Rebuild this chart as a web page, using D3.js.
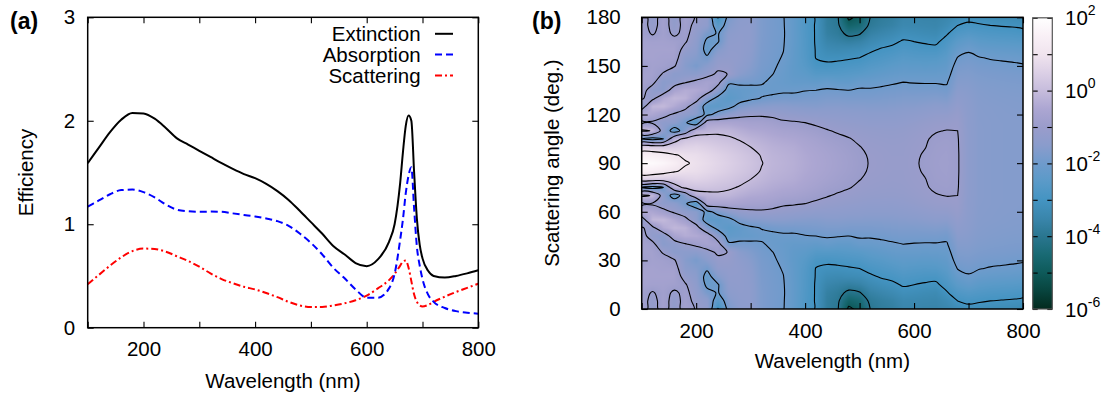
<!DOCTYPE html>
<html><head><meta charset="utf-8">
<script src="https://cdn.jsdelivr.net/npm/d3@7"></script>
<style>
body{margin:0;background:#fff}
svg text{font-family:"Liberation Sans",Arial,Helvetica,sans-serif}
</style>
</head><body>
<script>
// ---------------- Panel (a) data ----------------
const wavelengthsA = [100,120,140,160,180,200,220,240,260,280,300,320,340,360,380,400,420,440,460,480,500,520,540,560,580,600,620,640,650,660,665,670,675,680,685,690,695,700,710,720,740,760,780,800];
const extinction = [1.59,1.74,1.89,2.01,2.075,2.07,2.02,1.93,1.83,1.77,1.71,1.65,1.59,1.535,1.485,1.445,1.39,1.32,1.235,1.13,1.02,0.91,0.79,0.71,0.625,0.595,0.66,0.83,1.0,1.4,1.7,1.95,2.05,2.0,1.5,1.05,0.8,0.67,0.55,0.5,0.485,0.5,0.525,0.555];
const absorption = [1.17,1.23,1.29,1.33,1.335,1.31,1.26,1.19,1.14,1.125,1.12,1.122,1.12,1.105,1.09,1.075,1.055,1.03,0.985,0.91,0.82,0.71,0.58,0.48,0.37,0.29,0.29,0.38,0.52,0.85,1.05,1.3,1.47,1.55,1.15,0.78,0.6,0.47,0.32,0.25,0.19,0.16,0.145,0.135];
const scattering = [0.42,0.51,0.6,0.68,0.74,0.765,0.76,0.735,0.69,0.645,0.59,0.525,0.47,0.43,0.395,0.37,0.335,0.295,0.25,0.215,0.2,0.2,0.215,0.235,0.265,0.31,0.38,0.46,0.52,0.6,0.64,0.65,0.58,0.45,0.32,0.25,0.215,0.205,0.22,0.25,0.3,0.345,0.385,0.425];
const seriesNames = ["Extinction","Absorption","Scattering"];
const xTicksA = [100,200,300,400,500,600,700,800];
const xTickLabelsA = [200,400,600,800];
const yTicksA = [0,1,2,3];

// ---------------- Panel (b) data ----------------
const wavelengthsB = [100,120,140,160,180,200,220,240,260,280,300,320,340,360,380,400,420,440,460,480,500,520,540,560,580,600,620,640,660,680,700,720,740,760,780,800];
const anglesB = [0,5,10,15,20,25,30,35,40,45,50,55,60,65,70,75,80,85,90,95,100,105,110,115,120,125,130,135,140,145,150,155,160,165,170,175,180];
// log10 of scattered intensity; one array per wavelength, values for anglesB
const logIntensity = [
[-0.7,-0.75,-0.8,-0.7,-0.65,-0.7,-0.9,-0.75,-0.7,-0.75,-0.95,-1.45,-0.3,-1.2,0.15,-2.0,0.5,1.45,1.9,1.45,0.5,-2.0,0.15,-1.2,-0.3,-1.45,-0.95,-0.75,-0.7,-0.75,-0.9,-0.7,-0.65,-0.7,-0.8,-0.75,-0.7],
[-1.25,-1.2,-1.05,-0.75,-0.7,-0.7,-0.75,-0.75,-0.85,-1.3,-1.2,-0.1,-0.5,-1.1,-0.05,-2.3,0.45,1.4,1.85,1.4,0.45,-2.3,-0.05,-1.1,-0.5,-0.1,-1.2,-1.3,-0.85,-0.75,-0.75,-0.7,-0.7,-0.75,-1.05,-1.2,-1.25],
[-0.75,-0.75,-0.8,-0.75,-0.7,-0.75,-0.8,-1.05,-1.5,-1.45,-0.4,-0.05,-0.8,-1.35,-1.4,-2.0,0.4,1.25,1.7,1.25,0.4,-2.0,-1.4,-1.35,-0.8,-0.05,-0.4,-1.45,-1.5,-1.05,-0.8,-0.75,-0.7,-0.75,-0.8,-0.75,-0.75],
[-1.3,-1.25,-1.1,-0.8,-0.7,-0.75,-0.95,-1.45,-1.35,-0.6,-0.1,-0.4,-1.1,-1.4,-2.4,-0.3,0.4,1.05,1.45,1.05,0.4,-0.3,-2.4,-1.4,-1.1,-0.4,-0.1,-0.6,-1.35,-1.45,-0.95,-0.75,-0.7,-0.8,-1.1,-1.25,-1.3],
[-0.75,-0.8,-0.85,-0.95,-1.2,-1.45,-1.55,-1.45,-1.05,-0.35,-0.2,-0.8,-1.35,-1.9,-1.6,0.15,0.55,0.9,1.05,0.9,0.55,0.15,-1.6,-1.9,-1.35,-0.8,-0.2,-0.35,-1.05,-1.45,-1.55,-1.45,-1.2,-0.95,-0.85,-0.8,-0.75],
[-1.05,-1.15,-1.25,-1.35,-1.45,-1.6,-1.8,-1.45,-0.85,-0.4,-0.7,-1.4,-1.5,-2.6,-0.3,0.22,0.6,0.85,0.92,0.85,0.6,0.22,-0.3,-2.6,-1.5,-1.4,-0.7,-0.4,-0.85,-1.45,-1.8,-1.6,-1.45,-1.35,-1.25,-1.15,-1.05],
[-1.25,-1.35,-1.8,-2.15,-2.25,-1.9,-1.5,-1.2,-0.65,-0.6,-1.6,-2.35,-2.2,-0.55,-0.2,0.22,0.5,0.72,0.8,0.72,0.5,0.22,-0.2,-0.55,-2.2,-2.35,-1.6,-0.6,-0.65,-1.2,-1.5,-1.9,-2.25,-2.15,-1.8,-1.35,-1.25],
[-3.05,-2.5,-2.05,-2.05,-1.6,-1.3,-1.15,-0.9,-0.75,-1.4,-2.2,-2.4,-1.75,-0.55,-0.12,0.15,0.38,0.58,0.65,0.58,0.38,0.15,-0.12,-0.55,-1.75,-2.4,-2.2,-1.4,-0.75,-0.9,-1.15,-1.3,-1.6,-2.05,-2.05,-2.5,-3.05],
[-1.75,-1.6,-1.45,-1.35,-1.3,-1.25,-1.15,-1.02,-1.9,-2.3,-2.45,-2.2,-1.4,-0.55,-0.15,0.07,0.28,0.44,0.5,0.44,0.28,0.07,-0.15,-0.55,-1.4,-2.2,-2.45,-2.3,-1.9,-1.02,-1.15,-1.25,-1.3,-1.35,-1.45,-1.6,-1.75],
[-1.45,-1.4,-1.35,-1.32,-1.3,-1.3,-1.35,-1.5,-1.85,-2.25,-2.3,-1.75,-1.2,-0.62,-0.3,-0.04,0.15,0.3,0.35,0.3,0.15,-0.04,-0.3,-0.62,-1.2,-1.75,-2.3,-2.25,-1.85,-1.5,-1.35,-1.3,-1.3,-1.32,-1.35,-1.4,-1.45],
[-1.38,-1.38,-1.38,-1.4,-1.42,-1.47,-1.55,-1.68,-1.88,-2.2,-2.1,-1.6,-1.1,-0.7,-0.42,-0.18,0.0,0.15,0.2,0.15,0.0,-0.18,-0.42,-0.7,-1.1,-1.6,-2.1,-2.2,-1.88,-1.68,-1.55,-1.47,-1.42,-1.4,-1.38,-1.38,-1.38],
[-1.72,-1.72,-1.72,-1.74,-1.76,-1.79,-1.82,-1.88,-1.95,-2.1,-1.98,-1.55,-1.08,-0.72,-0.47,-0.28,-0.13,-0.03,0.02,-0.03,-0.13,-0.28,-0.47,-0.72,-1.08,-1.55,-1.98,-2.1,-1.95,-1.88,-1.82,-1.79,-1.76,-1.74,-1.72,-1.72,-1.72],
[-1.86,-1.86,-1.86,-1.87,-1.88,-1.9,-1.93,-1.99,-2.1,-2.12,-1.9,-1.5,-1.12,-0.8,-0.55,-0.38,-0.25,-0.18,-0.15,-0.18,-0.25,-0.38,-0.55,-0.8,-1.12,-1.5,-1.9,-2.12,-2.1,-1.99,-1.93,-1.9,-1.88,-1.87,-1.86,-1.86,-1.86],
[-1.98,-1.97,-1.96,-1.97,-1.99,-2.03,-2.1,-2.15,-2.18,-2.08,-1.85,-1.5,-1.2,-0.92,-0.65,-0.45,-0.32,-0.25,-0.22,-0.25,-0.32,-0.45,-0.65,-0.92,-1.2,-1.5,-1.85,-2.08,-2.18,-2.15,-2.1,-2.03,-1.99,-1.97,-1.96,-1.97,-1.98],
[-2.3,-2.3,-2.3,-2.3,-2.32,-2.33,-2.35,-2.33,-2.25,-2.08,-1.85,-1.55,-1.25,-0.95,-0.7,-0.5,-0.38,-0.32,-0.3,-0.32,-0.38,-0.5,-0.7,-0.95,-1.25,-1.55,-1.85,-2.08,-2.25,-2.33,-2.35,-2.33,-2.32,-2.3,-2.3,-2.3,-2.3],
[-2.7,-2.7,-2.68,-2.66,-2.65,-2.62,-2.55,-2.42,-2.25,-2.02,-1.82,-1.58,-1.3,-1.0,-0.78,-0.6,-0.5,-0.44,-0.42,-0.44,-0.5,-0.6,-0.78,-1.0,-1.3,-1.58,-1.82,-2.02,-2.25,-2.42,-2.55,-2.62,-2.65,-2.66,-2.68,-2.7,-2.7],
[-3.05,-3.05,-3.05,-3.05,-3.03,-3.02,-2.85,-2.6,-2.3,-2.0,-1.8,-1.6,-1.33,-1.08,-0.87,-0.7,-0.6,-0.54,-0.52,-0.54,-0.6,-0.7,-0.87,-1.08,-1.33,-1.6,-1.8,-2.0,-2.3,-2.6,-2.85,-3.02,-3.03,-3.05,-3.05,-3.05,-3.05],
[-3.75,-3.72,-3.65,-3.5,-3.3,-3.1,-2.9,-2.6,-2.2,-1.95,-1.75,-1.55,-1.35,-1.15,-0.97,-0.82,-0.7,-0.64,-0.62,-0.64,-0.7,-0.82,-0.97,-1.15,-1.35,-1.55,-1.75,-1.95,-2.2,-2.6,-2.9,-3.1,-3.3,-3.5,-3.65,-3.72,-3.75],
[-3.95,-3.9,-3.8,-3.6,-3.35,-3.1,-2.85,-2.6,-2.3,-1.97,-1.75,-1.55,-1.37,-1.2,-1.05,-0.9,-0.8,-0.74,-0.72,-0.74,-0.8,-0.9,-1.05,-1.2,-1.37,-1.55,-1.75,-1.97,-2.3,-2.6,-2.85,-3.1,-3.35,-3.6,-3.8,-3.9,-3.95],
[-5.15,-4.7,-4.15,-3.7,-3.3,-3.05,-2.8,-2.55,-2.3,-2.0,-1.78,-1.58,-1.4,-1.25,-1.1,-0.98,-0.9,-0.84,-0.82,-0.84,-0.9,-0.98,-1.1,-1.25,-1.4,-1.58,-1.78,-2.0,-2.3,-2.55,-2.8,-3.05,-3.3,-3.7,-4.15,-4.7,-5.15],
[-4.8,-4.5,-4.05,-3.6,-3.25,-3.0,-2.75,-2.5,-2.15,-1.95,-1.78,-1.58,-1.42,-1.28,-1.16,-1.06,-0.99,-0.95,-0.93,-0.95,-0.99,-1.06,-1.16,-1.28,-1.42,-1.58,-1.78,-1.95,-2.15,-2.5,-2.75,-3.0,-3.25,-3.6,-4.05,-4.5,-4.8],
[-3.98,-3.85,-3.62,-3.35,-3.08,-2.85,-2.62,-2.4,-2.15,-1.95,-1.78,-1.6,-1.45,-1.32,-1.2,-1.12,-1.07,-1.03,-1.02,-1.03,-1.07,-1.12,-1.2,-1.32,-1.45,-1.6,-1.78,-1.95,-2.15,-2.4,-2.62,-2.85,-3.08,-3.35,-3.62,-3.85,-3.98],
[-3.8,-3.7,-3.48,-3.2,-2.95,-2.75,-2.55,-2.32,-2.1,-1.92,-1.76,-1.6,-1.45,-1.32,-1.22,-1.15,-1.1,-1.07,-1.06,-1.07,-1.1,-1.15,-1.22,-1.32,-1.45,-1.6,-1.76,-1.92,-2.1,-2.32,-2.55,-2.75,-2.95,-3.2,-3.48,-3.7,-3.8],
[-3.7,-3.6,-3.35,-3.1,-2.88,-2.66,-2.45,-2.25,-2.05,-1.88,-1.73,-1.58,-1.45,-1.33,-1.23,-1.17,-1.13,-1.11,-1.1,-1.11,-1.13,-1.17,-1.23,-1.33,-1.45,-1.58,-1.73,-1.88,-2.05,-2.25,-2.45,-2.66,-2.88,-3.1,-3.35,-3.6,-3.7],
[-3.5,-3.4,-3.18,-2.95,-2.75,-2.55,-2.38,-2.2,-2.0,-1.85,-1.7,-1.55,-1.42,-1.3,-1.21,-1.15,-1.12,-1.11,-1.1,-1.11,-1.12,-1.15,-1.21,-1.3,-1.42,-1.55,-1.7,-1.85,-2.0,-2.2,-2.38,-2.55,-2.75,-2.95,-3.18,-3.4,-3.5],
[-3.5,-3.42,-3.22,-3.0,-2.8,-2.6,-2.4,-2.2,-2.02,-1.86,-1.7,-1.54,-1.38,-1.25,-1.15,-1.09,-1.06,-1.05,-1.04,-1.05,-1.06,-1.09,-1.15,-1.25,-1.38,-1.54,-1.7,-1.86,-2.02,-2.2,-2.4,-2.6,-2.8,-3.0,-3.22,-3.42,-3.5],
[-3.55,-3.45,-3.28,-3.05,-2.85,-2.62,-2.42,-2.22,-2.03,-1.86,-1.68,-1.5,-1.33,-1.18,-1.08,-1.03,-1.01,-0.97,-0.95,-0.97,-1.01,-1.03,-1.08,-1.18,-1.33,-1.5,-1.68,-1.86,-2.03,-2.22,-2.42,-2.62,-2.85,-3.05,-3.28,-3.45,-3.55],
[-3.55,-3.48,-3.32,-3.1,-2.85,-2.6,-2.4,-2.2,-2.03,-1.85,-1.65,-1.45,-1.27,-1.12,-1.02,-0.95,-0.91,-0.89,-0.88,-0.89,-0.91,-0.95,-1.02,-1.12,-1.27,-1.45,-1.65,-1.85,-2.03,-2.2,-2.4,-2.6,-2.85,-3.1,-3.32,-3.48,-3.55],
[-3.45,-3.3,-3.05,-2.8,-2.62,-2.45,-2.3,-2.17,-2.04,-1.9,-1.7,-1.48,-1.27,-1.1,-0.99,-0.92,-0.88,-0.86,-0.85,-0.86,-0.88,-0.92,-0.99,-1.1,-1.27,-1.48,-1.7,-1.9,-2.04,-2.17,-2.3,-2.45,-2.62,-2.8,-3.05,-3.3,-3.45],
[-3.25,-3.0,-2.72,-2.45,-2.2,-1.98,-1.82,-1.7,-1.6,-1.5,-1.38,-1.25,-1.13,-1.05,-1.0,-0.97,-0.96,-0.95,-0.95,-0.95,-0.96,-0.97,-1.0,-1.05,-1.13,-1.25,-1.38,-1.5,-1.6,-1.7,-1.82,-1.98,-2.2,-2.45,-2.72,-3.0,-3.25],
[-3.15,-2.9,-2.62,-2.3,-2.05,-1.9,-1.78,-1.68,-1.6,-1.54,-1.49,-1.46,-1.43,-1.42,-1.41,-1.4,-1.4,-1.4,-1.4,-1.4,-1.4,-1.4,-1.41,-1.42,-1.43,-1.46,-1.49,-1.54,-1.6,-1.68,-1.78,-1.9,-2.05,-2.3,-2.62,-2.9,-3.15],
[-3.2,-2.95,-2.7,-2.45,-2.2,-1.98,-1.85,-1.75,-1.68,-1.63,-1.6,-1.58,-1.57,-1.56,-1.55,-1.55,-1.55,-1.55,-1.55,-1.55,-1.55,-1.55,-1.55,-1.56,-1.57,-1.58,-1.6,-1.63,-1.68,-1.75,-1.85,-1.98,-2.2,-2.45,-2.7,-2.95,-3.2],
[-3.25,-3.0,-2.75,-2.5,-2.25,-2.03,-1.88,-1.78,-1.71,-1.66,-1.63,-1.6,-1.59,-1.58,-1.58,-1.58,-1.58,-1.58,-1.58,-1.58,-1.58,-1.58,-1.58,-1.58,-1.59,-1.6,-1.63,-1.66,-1.71,-1.78,-1.88,-2.03,-2.25,-2.5,-2.75,-3.0,-3.25],
[-3.3,-3.03,-2.78,-2.53,-2.28,-2.06,-1.9,-1.8,-1.73,-1.68,-1.65,-1.62,-1.61,-1.6,-1.6,-1.6,-1.6,-1.6,-1.6,-1.6,-1.6,-1.6,-1.6,-1.6,-1.61,-1.62,-1.65,-1.68,-1.73,-1.8,-1.9,-2.06,-2.28,-2.53,-2.78,-3.03,-3.3],
[-3.3,-3.05,-2.8,-2.55,-2.3,-2.08,-1.93,-1.82,-1.75,-1.7,-1.66,-1.64,-1.62,-1.61,-1.61,-1.61,-1.61,-1.61,-1.61,-1.61,-1.61,-1.61,-1.61,-1.61,-1.62,-1.64,-1.66,-1.7,-1.75,-1.82,-1.93,-2.08,-2.3,-2.55,-2.8,-3.05,-3.3],
[-3.35,-3.1,-2.85,-2.58,-2.33,-2.12,-1.96,-1.84,-1.76,-1.71,-1.67,-1.65,-1.63,-1.62,-1.62,-1.62,-1.62,-1.62,-1.62,-1.62,-1.62,-1.62,-1.62,-1.62,-1.63,-1.65,-1.67,-1.71,-1.76,-1.84,-1.96,-2.12,-2.33,-2.58,-2.85,-3.1,-3.35]
];
const contourLevels = [-5,-4,-3,-2,-1,0,1];
const xTicksB = [100,200,300,400,500,600,700,800];
const xTickLabelsB = [200,400,600,800];
const yTicksB = [0,30,60,90,120,150,180];
const colorbarTicks = [-6,-5,-4,-3,-2,-1,0,1,2];
const colorbarLabels = [-6,-4,-2,0,2];
// colour map (log10 value -> colour)
const paletteStops = [-6,-5.5,-5,-4.5,-4,-3.5,-3,-2.5,-2,-1.5,-1,-0.5,0,0.5,1,1.5,2];
const paletteColors = ["#032a1e","#08443e","#0e5a5a","#196a74","#2a7690","#3a86ac","#4494c2","#5a9ac8","#6f9bcc","#8a9ccc","#9a9ccb","#aca6d2","#c6bcdc","#dcd0e6","#f0e4ee","#f9f0f6","#ffffff"];

// ---------------- drawing ----------------
const W = 1116, H = 394;
const svg = d3.select("body").append("svg").attr("width", W).attr("height", H)
  .style("display","block").style("background","#fff");
const FS = 20.5;

function styleAxis(g){
  g.select(".domain").remove();
  g.selectAll(".tick line").attr("stroke","#000").attr("stroke-width",1.1);
  g.selectAll(".tick text").attr("font-size",FS).attr("fill","#000")
    .attr("font-family",'"Liberation Sans",Arial,sans-serif');
}

// ===== Panel (a) =====
const xA = d3.scaleLinear().domain([100,800]).range([87.7,478.3]);
const yA = d3.scaleLinear().domain([0,3]).range([327.7,17.3]);
const gA = svg.append("g");

gA.append("g").attr("transform",`translate(0,${yA(0)})`)
  .call(d3.axisBottom(xA).tickValues(xTicksA).tickSize(-6).tickSizeOuter(0).tickPadding(14)
    .tickFormat(d => xTickLabelsA.includes(d) ? d : ""))
  .call(styleAxis);
gA.append("g").attr("transform",`translate(0,${yA(3)})`)
  .call(d3.axisTop(xA).tickValues(xTicksA).tickSize(-6).tickSizeOuter(0).tickFormat(""))
  .call(styleAxis);
gA.append("g").attr("transform",`translate(${xA(100)},0)`)
  .call(d3.axisLeft(yA).tickValues(yTicksA).tickSize(-6).tickSizeOuter(0).tickPadding(12.5).tickFormat(d3.format("d")))
  .call(styleAxis);
gA.append("g").attr("transform",`translate(${xA(800)},0)`)
  .call(d3.axisRight(yA).tickValues(yTicksA).tickSize(-6).tickSizeOuter(0).tickFormat(""))
  .call(styleAxis);

svg.append("clipPath").attr("id","clipA").append("rect")
  .attr("x",xA(100)).attr("y",yA(3)).attr("width",xA(800)-xA(100)).attr("height",yA(0)-yA(3));

const seriesA = [
  {name:seriesNames[0], vals:extinction, color:"#000000", dash:null},
  {name:seriesNames[1], vals:absorption, color:"#0000ff", dash:"7,4"},
  {name:seriesNames[2], vals:scattering, color:"#ff0000", dash:"7,3,2,3"}
];
const lineA = d3.line().x(d=>xA(d[0])).y(d=>yA(d[1])).curve(d3.curveMonotoneX);
const curvesG = gA.append("g").attr("clip-path","url(#clipA)");
seriesA.slice().reverse().forEach(s=>{
  curvesG.append("path").datum(wavelengthsA.map((w,i)=>[w,s.vals[i]]))
    .attr("d",lineA).attr("fill","none").attr("stroke",s.color).attr("stroke-width",2)
    .attr("stroke-dasharray",s.dash);
});

const legG = gA.append("g");
seriesA.forEach((s,i)=>{
  const by = 41.4 + i*20.8;
  legG.append("text").attr("x",420.7).attr("y",by).attr("text-anchor","end")
    .attr("font-size",FS).text(s.name);
  legG.append("line").attr("x1",435).attr("x2",453).attr("y1",by-7.6).attr("y2",by-7.6)
    .attr("stroke",s.color).attr("stroke-width",2).attr("stroke-dasharray",s.dash);
});

gA.append("rect").attr("x",xA(100)).attr("y",yA(3)).attr("width",xA(800)-xA(100)).attr("height",yA(0)-yA(3))
  .attr("fill","none").attr("stroke","#000").attr("stroke-width",1.5);

gA.append("text").attr("x",(xA(100)+xA(800))/2).attr("y",387.5).attr("text-anchor","middle")
  .attr("font-size",FS).text("Wavelength (nm)");
gA.append("text").attr("transform",`translate(33,${(yA(0)+yA(3))/2}) rotate(-90)`).attr("text-anchor","middle")
  .attr("font-size",FS).text("Efficiency");
gA.append("text").attr("x",10).attr("y",28.5).attr("font-size",23).attr("font-weight","bold").text("(a)");

// ===== Panel (b) =====
const xB = d3.scaleLinear().domain([100,800]).range([641.7,1023]);
const yB = d3.scaleLinear().domain([0,180]).range([309,17.3]);
const cScale = d3.scaleLinear().domain(paletteStops).range(paletteColors).clamp(true);
const gB = svg.append("g");

const nx = wavelengthsB.length, ny = anglesB.length;
const dW = wavelengthsB[1]-wavelengthsB[0], dA = anglesB[1]-anglesB[0];
function valueAt(w, a){
  let fi = (w - wavelengthsB[0]) / dW, fj = (a - anglesB[0]) / dA;
  fi = Math.max(0, Math.min(nx-1, fi)); fj = Math.max(0, Math.min(ny-1, fj));
  const i0 = Math.min(nx-2, Math.floor(fi)), j0 = Math.min(ny-2, Math.floor(fj));
  const t = fi - i0, u = fj - j0;
  const v00 = logIntensity[i0][j0], v10 = logIntensity[i0+1][j0], v01 = logIntensity[i0][j0+1], v11 = logIntensity[i0+1][j0+1];
  return (1-t)*(1-u)*v00 + t*(1-u)*v10 + (1-t)*u*v01 + t*u*v11;
}

const px0 = xB(100), py0 = yB(180), pw = Math.ceil(xB(800)-xB(100)), ph = Math.ceil(yB(0)-yB(180));
const canvas = document.createElement("canvas");
canvas.width = pw; canvas.height = ph;
const ctx = canvas.getContext("2d");
const img = ctx.createImageData(pw, ph);
for (let py=0; py<ph; py++){
  const a = yB.invert(py0 + py + 0.5);
  for (let px=0; px<pw; px++){
    const w = xB.invert(px0 + px + 0.5);
    const c = d3.rgb(cScale(valueAt(w,a)));
    const k = 4*(py*pw+px);
    img.data[k]=c.r; img.data[k+1]=c.g; img.data[k+2]=c.b; img.data[k+3]=255;
  }
}
ctx.putImageData(img,0,0);

svg.append("clipPath").attr("id","clipB").append("rect")
  .attr("x",px0).attr("y",py0).attr("width",xB(800)-xB(100)).attr("height",yB(0)-yB(180));
const heatG = gB.append("g").attr("clip-path","url(#clipB)");
heatG.append("image").attr("x",px0).attr("y",py0).attr("width",pw).attr("height",ph)
  .attr("preserveAspectRatio","none").attr("href",canvas.toDataURL());

// contours
const flat = new Array(nx*ny);
for (let j=0;j<ny;j++) for (let i=0;i<nx;i++) flat[j*nx+i] = logIntensity[i][j];
const contours = d3.contours().size([nx,ny]).thresholds(contourLevels)(flat);
const gx2w = gx => wavelengthsB[0] + dW*(gx-0.5);
const gy2a = gy => anglesB[0] + dA*(gy-0.5);
const onB = p => p[0]<=0 || p[0]>=nx || p[1]<=0 || p[1]>=ny;
function splitRing(ring){
  const pts = ring.slice(0,-1);
  const k = pts.findIndex(onB);
  if (k<0) return [{closed:true, pts}];
  const rot = pts.slice(k).concat(pts.slice(0,k)); rot.push(rot[0]);
  const out=[]; let cur=null;
  for (const p of rot){
    if (onB(p)){
      if (cur){ cur.push(p); if (cur.length>2) out.push({closed:false, pts:cur}); }
      cur=[p];
    } else if (cur) cur.push(p);
  }
  return out;
}
const openLine = d3.line().x(p=>xB(gx2w(p[0]))).y(p=>yB(gy2a(p[1]))).curve(d3.curveCatmullRom.alpha(0.5));
const closedLine = d3.line().x(p=>xB(gx2w(p[0]))).y(p=>yB(gy2a(p[1]))).curve(d3.curveCatmullRomClosed.alpha(0.5));
const contG = heatG.append("g");
contours.forEach(c=>{
  c.coordinates.forEach(poly=>poly.forEach(ring=>{
    splitRing(ring).forEach(seg=>{
      contG.append("path").attr("d",(seg.closed?closedLine:openLine)(seg.pts))
        .attr("fill","none").attr("stroke","#000").attr("stroke-width",1.1);
    });
  }));
});

gB.append("g").attr("transform",`translate(0,${yB(0)})`)
  .call(d3.axisBottom(xB).tickValues(xTicksB).tickSize(-6).tickSizeOuter(0).tickPadding(14)
    .tickFormat(d => xTickLabelsB.includes(d) ? d : ""))
  .call(styleAxis);
gB.append("g").attr("transform",`translate(0,${yB(180)})`)
  .call(d3.axisTop(xB).tickValues(xTicksB).tickSize(-6).tickSizeOuter(0).tickFormat(""))
  .call(styleAxis);
gB.append("g").attr("transform",`translate(${xB(100)},0)`)
  .call(d3.axisLeft(yB).tickValues(yTicksB).tickSize(-6).tickSizeOuter(0).tickPadding(21))
  .call(styleAxis);
gB.append("g").attr("transform",`translate(${xB(800)},0)`)
  .call(d3.axisRight(yB).tickValues(yTicksB).tickSize(-6).tickSizeOuter(0).tickFormat(""))
  .call(styleAxis);
gB.append("rect").attr("x",px0).attr("y",py0).attr("width",xB(800)-xB(100)).attr("height",yB(0)-yB(180))
  .attr("fill","none").attr("stroke","#000").attr("stroke-width",1.5);

gB.append("text").attr("x",(xB(100)+xB(800))/2).attr("y",368).attr("text-anchor","middle")
  .attr("font-size",FS).text("Wavelength (nm)");
gB.append("text").attr("transform",`translate(559,${(yB(0)+yB(180))/2}) rotate(-90)`).attr("text-anchor","middle")
  .attr("font-size",FS).text("Scattering angle (deg.)");
gB.append("text").attr("x",532).attr("y",28.5).attr("font-size",23).attr("font-weight","bold").text("(b)");

// colorbar
const cbX = 1032.7, cbW = 19.6;
const yC = d3.scaleLinear().domain([-6,2]).range([309,17.8]);
const grad = svg.append("defs").append("linearGradient").attr("id","cbGrad")
  .attr("x1",0).attr("y1",1).attr("x2",0).attr("y2",0);
paletteStops.forEach((s,i)=>grad.append("stop").attr("offset",(s+6)/8).attr("stop-color",paletteColors[i]));
gB.append("rect").attr("x",cbX).attr("y",yC(2)).attr("width",cbW).attr("height",yC(-6)-yC(2)).attr("fill","url(#cbGrad)");
gB.append("g").attr("transform",`translate(${cbX},0)`)
  .call(d3.axisRight(yC).tickValues(colorbarTicks).tickSize(5).tickSizeOuter(0).tickFormat(""))
  .call(styleAxis);
gB.append("g").attr("transform",`translate(${cbX+cbW},0)`)
  .call(d3.axisLeft(yC).tickValues(colorbarTicks).tickSize(5).tickSizeOuter(0).tickFormat(""))
  .call(styleAxis);
gB.append("rect").attr("x",cbX).attr("y",yC(2)).attr("width",cbW).attr("height",yC(-6)-yC(2))
  .attr("fill","none").attr("stroke","#555").attr("stroke-width",1.2);
colorbarLabels.forEach(v=>{
  const t = gB.append("text").attr("x",1065).attr("y",yC(v)+7.5).attr("font-size",FS);
  t.append("tspan").text("10");
  t.append("tspan").attr("dy",-10).attr("font-size",14).text(String(v));
});
</script>
</body></html>
